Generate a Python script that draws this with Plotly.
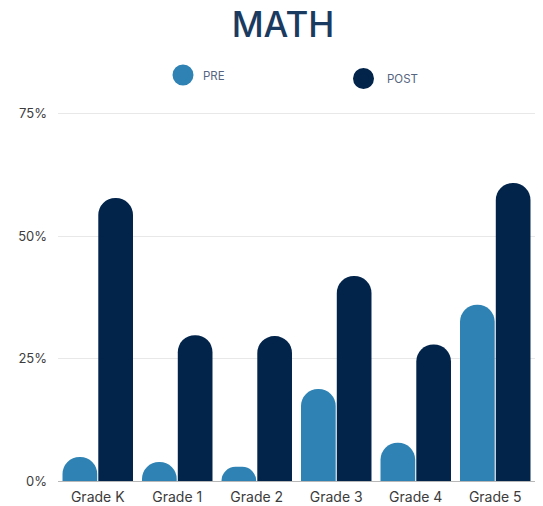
import plotly.graph_objects as go

grades = ["Grade K", "Grade 1", "Grade 2", "Grade 3", "Grade 4", "Grade 5"]
pre_values = [4.9, 3.9, 2.9, 18.8, 7.8, 36.0]
post_values = [57.8, 29.8, 29.6, 41.9, 27.9, 60.9]
y_tick_values = [0, 25, 50, 75]
y_tick_labels = ["0%", "25%", "50%", "75%"]

PRE_COLOR = "#2e83b4"
POST_COLOR = "#02244b"
FONT = "Inter, Roboto, sans-serif"

W, H = 543, 506
ML, MR, MT, MB = 58, 8, 109, 25
PW, PH = W - ML - MR, H - MT - MB


def px_x(px):
    return (px - ML) / PW


def px_y(py):
    return (H - MB - py) / PH


fig = go.Figure()
fig.add_trace(go.Bar(x=grades, y=pre_values, name="PRE", marker_color=PRE_COLOR,
                     marker_line_width=0, showlegend=False))
fig.add_trace(go.Bar(x=grades, y=post_values, name="POST", marker_color=POST_COLOR,
                     marker_line_width=0, showlegend=False))

# legend entries (circles)
fig.add_trace(go.Scatter(x=[None], y=[None], mode="markers", name="PRE",
                         marker=dict(symbol="circle", size=16, color=PRE_COLOR,
                                     line=dict(color=PRE_COLOR, width=9)),
                         legend="legend"))
fig.add_trace(go.Scatter(x=[None], y=[None], mode="markers", name="POST",
                         marker=dict(symbol="circle", size=16, color=POST_COLOR,
                                     line=dict(color=POST_COLOR, width=9)),
                         legend="legend2"))

legend_font = dict(family=FONT, size=11.5, color="#556580")
fig.update_layout(
    width=W, height=H,
    margin=dict(l=ML, r=MR, t=MT, b=MB, autoexpand=False),
    paper_bgcolor="white", plot_bgcolor="white",
    barmode="group", bargap=0.1, bargroupgap=0.03,
    barcornerradius="50%",
    title=dict(text="MATH", x=283 / W, xanchor="center", xref="container",
               y=1 - 25 / H, yanchor="middle", yref="container",
               font=dict(family=FONT, size=35, color="#1b3a5f", weight=500)),
    legend=dict(x=px_x(183 - 20), y=px_y(75), xref="paper", yref="paper",
                xanchor="left", yanchor="middle", font=legend_font,
                bgcolor="rgba(0,0,0,0)", borderwidth=0),
    legend2=dict(x=px_x(360 - 20), y=px_y(78.5), xref="paper", yref="paper",
                 xanchor="left", yanchor="middle", font=legend_font,
                 bgcolor="rgba(0,0,0,0)", borderwidth=0, itemwidth=37),
    xaxis=dict(showgrid=False, showline=True, linecolor="#b8b8b8", linewidth=1,
               tickfont=dict(family=FONT, size=14, color="#3c3c3c"),
               ticks="", ticklabelstandoff=3, fixedrange=True, automargin=False),
    yaxis=dict(range=[0, 76], tickvals=y_tick_values, ticktext=y_tick_labels,
               showgrid=True, gridcolor="#e8e8e8", gridwidth=1, zeroline=False,
               showline=False, ticks="", ticklabelstandoff=10, automargin=False,
               tickfont=dict(family=FONT, size=13, color="#3c3c3c"), fixedrange=True),
)

fig.write_html("out.html")
